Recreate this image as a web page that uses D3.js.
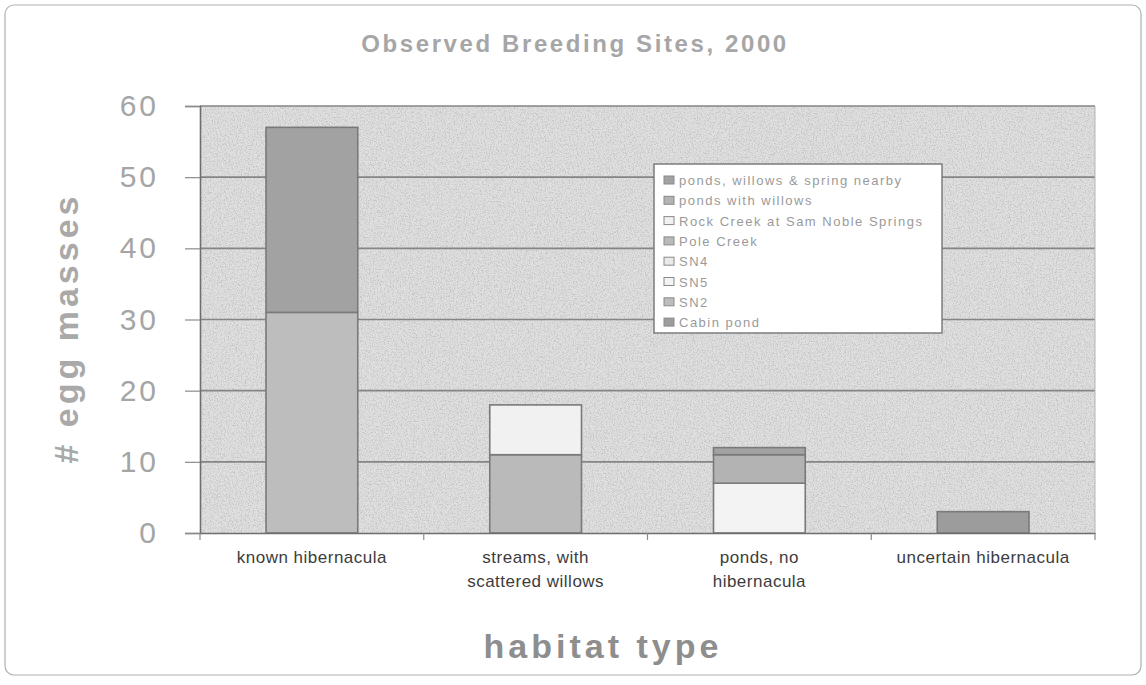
<!DOCTYPE html>
<html>
<head>
<meta charset="utf-8">
<script src="https://cdn.jsdelivr.net/npm/d3@7"></script>
<style>
  body { margin: 0; background: #fff; }
  svg { display: block; font-family: Arial, "Liberation Sans", sans-serif; }
</style>
</head>
<body>
<div id="chart"></div>
<script>
// habitat categories along the x axis
const categories = ["known hibernacula", "streams, with|scattered willows", "ponds, no|hibernacula", "uncertain hibernacula"];

// series, bottom of the stack first (legend lists them top first)
const seriesNames = ["Cabin pond", "SN2", "SN5", "SN4", "Pole Creek", "Rock Creek at Sam Noble Springs", "ponds with willows", "ponds, willows & spring nearby"];
const cabinPond   = [0, 0, 0, 3];
const sn2         = [31, 0, 0, 0];
const sn5         = [0, 0, 7, 0];
const sn4         = [0, 0, 0, 0];
const poleCreek   = [0, 11, 0, 0];
const rockCreek   = [0, 7, 0, 0];
const pondsWillow = [0, 0, 4, 0];
const pondsSpring = [26, 0, 1, 0];
const seriesColors = ["#9c9c9c", "#bdbdbd", "#f3f3f3", "#e9e9e9", "#bababa", "#f1f1f1", "#b3b3b3", "#a2a2a2"];

const yTicks = [0, 10, 20, 30, 40, 50, 60];

const W = 1146, H = 685;
const margin = {left: 200, right: 51, top: 106, bottom: 152};

const svg = d3.select("#chart").append("svg")
  .attr("width", W).attr("height", H);

let defs = svg.append("defs");
let f = defs.append("filter").attr("id", "speckle")
  .attr("x", 0).attr("y", 0).attr("width", "100%").attr("height", "100%");
f.append("feTurbulence").attr("type", "fractalNoise").attr("baseFrequency", 0.75)
  .attr("numOctaves", 2).attr("seed", 4);
f.append("feColorMatrix").attr("type", "matrix")
  .attr("values", "0 0 0 0 0.55  0 0 0 0 0.55  0 0 0 0 0.55  3.2 0 0 0 -1.4");

// outer frame
svg.append("rect")
  .attr("x", 5).attr("y", 5).attr("width", 1136).attr("height", 670)
  .attr("rx", 9)
  .attr("fill", "none").attr("stroke", "#b0b0b0").attr("stroke-width", 1.2);

const data = categories.map((c, i) => {
  let row = {cat: c};
  row["Cabin pond"] = cabinPond[i];
  row["SN2"] = sn2[i];
  row["SN5"] = sn5[i];
  row["SN4"] = sn4[i];
  row["Pole Creek"] = poleCreek[i];
  row["Rock Creek at Sam Noble Springs"] = rockCreek[i];
  row["ponds with willows"] = pondsWillow[i];
  row["ponds, willows & spring nearby"] = pondsSpring[i];
  return row;
});

const x = d3.scaleBand().domain(categories)
  .range([margin.left, W - margin.right]);
const y = d3.scaleLinear().domain([0, 60])
  .range([H - margin.bottom, margin.top]);
const color = d3.scaleOrdinal().domain(seriesNames).range(seriesColors);

// plot background
svg.append("rect")
  .attr("x", margin.left).attr("y", margin.top)
  .attr("width", W - margin.right - margin.left)
  .attr("height", y(0) - margin.top)
  .attr("fill", "#e0e0e0");
svg.append("rect")
  .attr("x", margin.left).attr("y", margin.top)
  .attr("width", W - margin.right - margin.left)
  .attr("height", y(0) - margin.top)
  .attr("filter", "url(#speckle)");

// gridlines
svg.append("g")
  .selectAll("line")
  .data(yTicks.filter(t => t > 0))
  .enter().append("line")
  .attr("x1", margin.left).attr("x2", W - margin.right)
  .attr("y1", d => y(d)).attr("y2", d => y(d))
  .attr("stroke", "#858585").attr("stroke-width", 1.6);

// right edge of plot area
svg.append("line")
  .attr("x1", W - margin.right).attr("x2", W - margin.right)
  .attr("y1", margin.top).attr("y2", y(0))
  .attr("stroke", "#b5b5b5").attr("stroke-width", 1);

// stacked bars
const stacked = d3.stack().keys(seriesNames)(data);
const barW = x.bandwidth() * 0.41;

svg.append("g")
  .selectAll("g")
  .data(stacked)
  .enter().append("g")
  .attr("fill", d => color(d.key))
  .selectAll("rect")
  .data(d => d.filter(s => s[1] - s[0] > 0))
  .enter().append("rect")
  .attr("x", d => x(d.data.cat) + (x.bandwidth() - barW) / 2)
  .attr("y", d => y(d[1]))
  .attr("width", barW)
  .attr("height", d => y(d[0]) - y(d[1]))
  .attr("stroke", "#7a7a7a")
  .attr("stroke-width", 1.6);

// y axis
const yAxis = svg.append("g")
  .attr("transform", "translate(" + margin.left + ",0)")
  .call(d3.axisLeft(y).tickValues(yTicks).tickSize(15).tickPadding(26));
yAxis.select(".domain").attr("stroke", "#6e6e6e").attr("stroke-width", 1.6);
yAxis.selectAll(".tick line").attr("stroke", "#8a8a8a").attr("stroke-width", 1.2);
yAxis.selectAll(".tick text")
  .attr("fill", "#a5a5a5")
  .attr("font-size", 30)
  .attr("letter-spacing", 3)
  .attr("font-family", "Arial, 'Liberation Sans', sans-serif");

// x axis
const xAxis = svg.append("g")
  .attr("transform", "translate(0," + y(0) + ")")
  .call(d3.axisBottom(x).tickSize(0).tickFormat(""));
xAxis.select(".domain").attr("stroke", "#6e6e6e").attr("stroke-width", 1.6);

// category separators below the axis
svg.append("g")
  .selectAll("line")
  .data(categories.concat(["end"]))
  .enter().append("line")
  .attr("x1", (d, i) => i < categories.length ? x(d) : W - margin.right)
  .attr("x2", (d, i) => i < categories.length ? x(d) : W - margin.right)
  .attr("y1", y(0)).attr("y2", y(0) + 7)
  .attr("stroke", "#8a8a8a").attr("stroke-width", 1.2);

// category labels
svg.append("g")
  .selectAll("text")
  .data(categories)
  .enter().append("text")
  .attr("x", d => x(d) + x.bandwidth() / 2)
  .attr("y", y(0) + 30)
  .attr("text-anchor", "middle")
  .attr("font-size", 17)
  .attr("fill", "#3c3c3c")
  .attr("letter-spacing", 0.5)
  .each(function(d) {
    let lines = d.split("|");
    d3.select(this).selectAll("tspan")
      .data(lines)
      .enter().append("tspan")
      .attr("x", x(d) + x.bandwidth() / 2)
      .attr("dy", (l, i) => i === 0 ? 0 : 24)
      .text(l => l);
  });

// title
svg.append("text")
  .attr("x", 575).attr("y", 52)
  .attr("text-anchor", "middle")
  .attr("font-size", 24).attr("font-weight", "bold")
  .attr("letter-spacing", 2.6)
  .attr("fill", "#a6a6a6")
  .text("Observed Breeding Sites, 2000");

// axis titles
svg.append("text")
  .attr("transform", "translate(78,328) rotate(-90)")
  .attr("text-anchor", "middle")
  .attr("font-size", 34).attr("font-weight", "bold")
  .attr("letter-spacing", 4)
  .attr("fill", "#a9a9a9")
  .text("# egg masses");

svg.append("text")
  .attr("x", 603).attr("y", 658)
  .attr("text-anchor", "middle")
  .attr("font-size", 34).attr("font-weight", "bold")
  .attr("letter-spacing", 4)
  .attr("fill", "#8e8e8e")
  .text("habitat type");

// legend (top series first)
const legend = svg.append("g").attr("transform", "translate(654,164)");
legend.append("rect")
  .attr("width", 288).attr("height", 169)
  .attr("fill", "#fff")
  .attr("stroke", "#7c7c7c").attr("stroke-width", 1.5);

const legendItems = legend.selectAll("g")
  .data(seriesNames.slice().reverse())
  .enter().append("g")
  .attr("transform", (d, i) => "translate(10," + (17 + i * 20.3) + ")");
legendItems.append("rect")
  .attr("x", 0).attr("y", -5)
  .attr("width", 10).attr("height", 8)
  .attr("fill", d => color(d))
  .attr("stroke", "#8a8a8a").attr("stroke-width", 1);
legendItems.append("text")
  .attr("x", 15).attr("y", 4)
  .attr("font-size", 13)
  .attr("letter-spacing", 1.5)
  .attr("fill", "#9a9a9a")
  .text(d => d);
</script>
</body>
</html>
